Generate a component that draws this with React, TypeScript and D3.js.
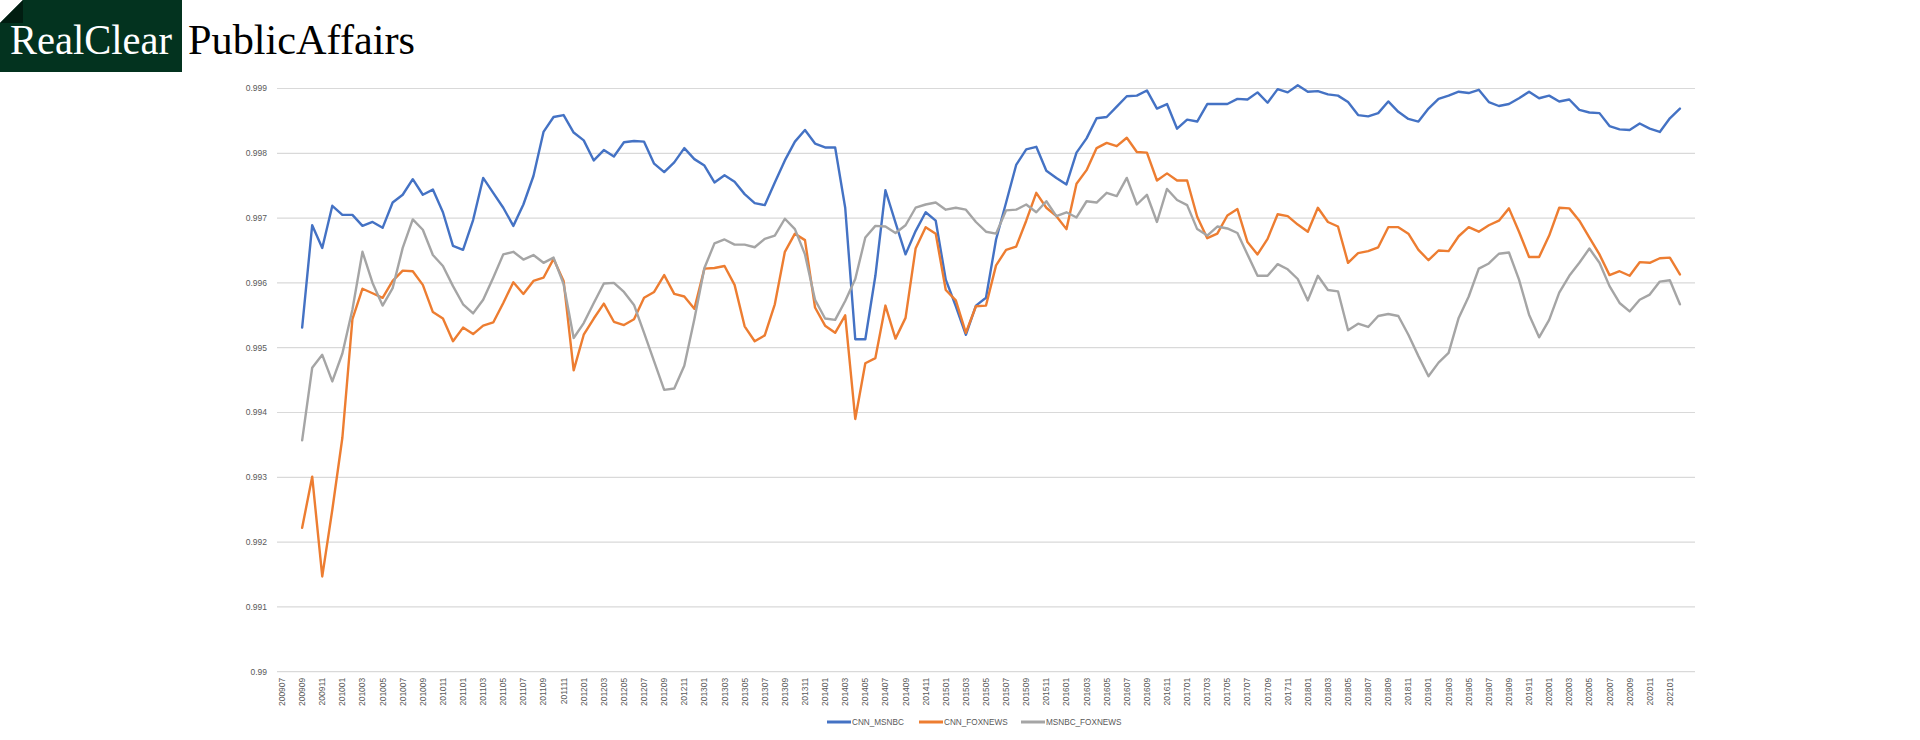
import * as d3 from "d3";

// monthly categories on the x axis (200907 .. 202102), labelled every other month
const firstMonth = { year: 2009, month: 7 };
const monthCount = 140;
const months: string[] = [];
for (let i = 0; i < monthCount; i++) {
    const m = firstMonth.month - 1 + i;
    const y = firstMonth.year + Math.floor(m / 12);
    months.push(`${y}${String((m % 12) + 1).padStart(2, "0")}`);
}

// the three series start at 200909
const seriesStart = "200909";

const yTicks = [0.99, 0.991, 0.992, 0.993, 0.994, 0.995, 0.996, 0.997, 0.998, 0.999];

const cnnMsnbc = [
    0.99531, 0.99689, 0.99654, 0.99719, 0.99705, 0.99705, 0.99688, 0.99694, 0.99685, 0.99724,
    0.99736, 0.9976, 0.99736, 0.99744, 0.99709, 0.99657, 0.99651, 0.99697, 0.99762, 0.99739,
    0.99716, 0.99688, 0.99721, 0.99765, 0.99833, 0.99856, 0.99859, 0.99832, 0.9982, 0.99789,
    0.99805, 0.99795, 0.99817, 0.99819, 0.99818, 0.99784, 0.99771, 0.99786, 0.99808, 0.99791,
    0.99781, 0.99755, 0.99766, 0.99756, 0.99737, 0.99723, 0.9972, 0.99755, 0.99789, 0.99818,
    0.99836, 0.99815, 0.99809, 0.99809, 0.99716, 0.99513, 0.99513, 0.99611, 0.99743, 0.99693,
    0.99644, 0.9968, 0.99709, 0.99696, 0.99605, 0.99564, 0.9952, 0.99565, 0.99577, 0.99667,
    0.99724, 0.99782, 0.99806, 0.9981, 0.99773, 0.99762, 0.99752, 0.99801, 0.99823, 0.99854,
    0.99856, 0.99872, 0.99888, 0.99889, 0.99897, 0.99869, 0.99876, 0.99838, 0.99852, 0.99849,
    0.99876, 0.99876, 0.99876, 0.99884, 0.99883, 0.99894, 0.99878, 0.99899, 0.99894, 0.99905,
    0.99895, 0.99896, 0.99891, 0.99889, 0.99879, 0.99859, 0.99857, 0.99862, 0.9988, 0.99864,
    0.99853, 0.99849, 0.99869, 0.99884, 0.99889, 0.99895, 0.99893, 0.99898, 0.99879, 0.99873,
    0.99876, 0.99885, 0.99895, 0.99885, 0.99889, 0.9988, 0.99883, 0.99867, 0.99863, 0.99862,
    0.99842, 0.99837, 0.99836, 0.99846, 0.99838, 0.99833, 0.99854, 0.99869,
];

const cnnFoxnews = [
    0.99222, 0.99301, 0.99147, 0.9925, 0.99361, 0.99544, 0.99591, 0.99584, 0.99577, 0.99603,
    0.99619, 0.99618, 0.99597, 0.99555, 0.99545, 0.9951, 0.99531, 0.99521, 0.99534, 0.99539,
    0.99569, 0.99601, 0.99583, 0.99603, 0.99608, 0.99637, 0.99603, 0.99465, 0.9952, 0.99545,
    0.99568, 0.9954, 0.99535, 0.99544, 0.99577, 0.99586, 0.99612, 0.99583, 0.99579, 0.9956,
    0.99622, 0.99623, 0.99626, 0.99597, 0.99533, 0.9951, 0.99519, 0.99567, 0.99648, 0.99676,
    0.99666, 0.99562, 0.99534, 0.99523, 0.9955, 0.9939, 0.99476, 0.99484, 0.99565, 0.99514,
    0.99546, 0.99653, 0.99686, 0.99676, 0.99589, 0.99573, 0.99523, 0.99564, 0.99565, 0.99627,
    0.99651, 0.99656, 0.99696, 0.99739, 0.99716, 0.99703, 0.99683, 0.99753, 0.99774, 0.99808,
    0.99816, 0.99811, 0.99824, 0.99802, 0.99801, 0.99758, 0.99769, 0.99758, 0.99758, 0.99702,
    0.99669, 0.99676, 0.99704, 0.99714, 0.99663, 0.99644, 0.99668, 0.99706, 0.99703, 0.9969,
    0.99679, 0.99716, 0.99694, 0.99687, 0.99631, 0.99646, 0.99649, 0.99655, 0.99686, 0.99686,
    0.99676, 0.99651, 0.99635, 0.9965, 0.99649, 0.99672, 0.99686, 0.99679, 0.99689, 0.99696,
    0.99715, 0.99679, 0.9964, 0.9964, 0.99673, 0.99716, 0.99715, 0.99696, 0.9967, 0.99644,
    0.99612, 0.99618, 0.99611, 0.99632, 0.99631, 0.99638, 0.99639, 0.99613,
];

const msnbcFoxnews = [
    0.99357, 0.99469, 0.99489, 0.99448, 0.99491, 0.99559, 0.99648, 0.996, 0.99565, 0.99592,
    0.99654, 0.99698, 0.99682, 0.99643, 0.99626, 0.99595, 0.99567, 0.99553, 0.99574, 0.99608,
    0.99644, 0.99648, 0.99636, 0.99643, 0.99631, 0.99639, 0.99598, 0.99515, 0.99538, 0.99569,
    0.99599, 0.996, 0.99586, 0.99566, 0.99523, 0.99479, 0.99435, 0.99437, 0.99472, 0.99544,
    0.99623, 0.99661, 0.99667, 0.99659, 0.99659, 0.99655, 0.99668, 0.99673, 0.99699, 0.99683,
    0.99644, 0.99574, 0.99545, 0.99543, 0.99572, 0.99606, 0.9967, 0.99688, 0.99687, 0.99677,
    0.99689, 0.99716, 0.99721, 0.99724, 0.99713, 0.99716, 0.99713, 0.99694, 0.99679, 0.99676,
    0.99712, 0.99713, 0.99721, 0.99709, 0.99726, 0.99703, 0.99709, 0.99701, 0.99726, 0.99724,
    0.99739, 0.99734, 0.99762, 0.99721, 0.99736, 0.99694, 0.99745, 0.99728, 0.9972, 0.99683,
    0.99673, 0.99687, 0.99684, 0.99677, 0.99644, 0.99611, 0.99611, 0.99629, 0.99621, 0.99606,
    0.99573, 0.99611, 0.99589, 0.99587, 0.99527, 0.99537, 0.99532, 0.99549, 0.99552, 0.99549,
    0.9952, 0.99487, 0.99456, 0.99477, 0.99492, 0.99546, 0.99579, 0.99622, 0.9963, 0.99645,
    0.99647, 0.99605, 0.99551, 0.99516, 0.99543, 0.99585, 0.99611, 0.99631, 0.99653, 0.99631,
    0.99595, 0.99569, 0.99556, 0.99574, 0.99582, 0.99602, 0.99604, 0.99567,
];

const seriesNames = ["CNN_MSNBC", "CNN_FOXNEWS", "MSNBC_FOXNEWS"];
const seriesValues = [cnnMsnbc, cnnFoxnews, msnbcFoxnews];
const seriesColors = ["#4472C4", "#ED7D31", "#A5A5A5"];

const W = 1920;
const H = 740;
const plot = { left: 277, right: 1695, top: 88.5, bottom: 671.7 };
const axisFont = "'Liberation Sans', Arial, sans-serif";
const textGrey = "#595959";

export default function App() {
    // one spare band after the last month, as in the source chart
    const x = d3
        .scaleBand<string>()
        .domain([...months, ""])
        .range([plot.left, plot.right]);
    const cx = (m: string) => (x(m) ?? 0) + x.bandwidth() / 2;

    const y = d3.scaleLinear().domain([0.99, 0.999]).range([plot.bottom, plot.top]);

    const startIdx = months.indexOf(seriesStart);
    const line = d3
        .line<number>()
        .x((_, i) => cx(months[startIdx + i]))
        .y(d => y(d));

    const legendX = [827, 919, 1021];

    return (
        <svg
            width={W}
            height={H}
            style={{ position: "absolute", left: 0, top: 0, display: "block", background: "#fff" }}
        >
            {/* masthead */}
            <rect x={0} y={0} width={182} height={72} fill="#03331f" />
            <polygon points="0,0 23,0 0,23" fill="#fff" />
            <polygon points="23,0 23,23 0,23" fill="#011d11" />
            <text
                x={10}
                y={54}
                fontFamily="'Liberation Serif', 'Times New Roman', serif"
                fontSize={42}
                fill="#fff"
                textLength={162}
                lengthAdjust="spacingAndGlyphs"
            >
                RealClear
            </text>
            <text
                x={188}
                y={54}
                fontFamily="'Liberation Serif', 'Times New Roman', serif"
                fontSize={42}
                fill="#000"
                textLength={227}
                lengthAdjust="spacingAndGlyphs"
            >
                PublicAffairs
            </text>

            {/* gridlines + y labels */}
            {yTicks.map(t => (
                <g key={t}>
                    <line
                        x1={plot.left}
                        x2={plot.right}
                        y1={y(t)}
                        y2={y(t)}
                        stroke="#d9d9d9"
                        strokeWidth={1.2}
                    />
                    <text
                        x={267}
                        y={y(t)}
                        dy="0.35em"
                        textAnchor="end"
                        fontFamily={axisFont}
                        fontSize={8.5}
                        fill={textGrey}
                    >
                        {String(+t.toFixed(3))}
                    </text>
                </g>
            ))}

            {/* x labels, every other month, rotated */}
            {months
                .filter((_, i) => i % 2 === 0)
                .map(m => (
                    <text
                        key={m}
                        transform={`translate(${cx(m)},${plot.bottom + 6}) rotate(-90)`}
                        dy="0.35em"
                        textAnchor="end"
                        fontFamily={axisFont}
                        fontSize={8.5}
                        fill={textGrey}
                    >
                        {m}
                    </text>
                ))}

            {/* series */}
            {seriesValues.map((vals, i) => (
                <path
                    key={seriesNames[i]}
                    d={line(vals) ?? ""}
                    fill="none"
                    stroke={seriesColors[i]}
                    strokeWidth={2.4}
                    strokeLinejoin="round"
                    strokeLinecap="round"
                />
            ))}

            {/* legend */}
            {seriesNames.map((name, i) => (
                <g key={name} transform={`translate(${legendX[i]},722)`}>
                    <line x1={0} x2={24} y1={0} y2={0} stroke={seriesColors[i]} strokeWidth={3} />
                    <text
                        x={25}
                        y={0}
                        dy="0.35em"
                        fontFamily={axisFont}
                        fontSize={8.2}
                        fill={textGrey}
                    >
                        {name}
                    </text>
                </g>
            ))}
        </svg>
    );
}
